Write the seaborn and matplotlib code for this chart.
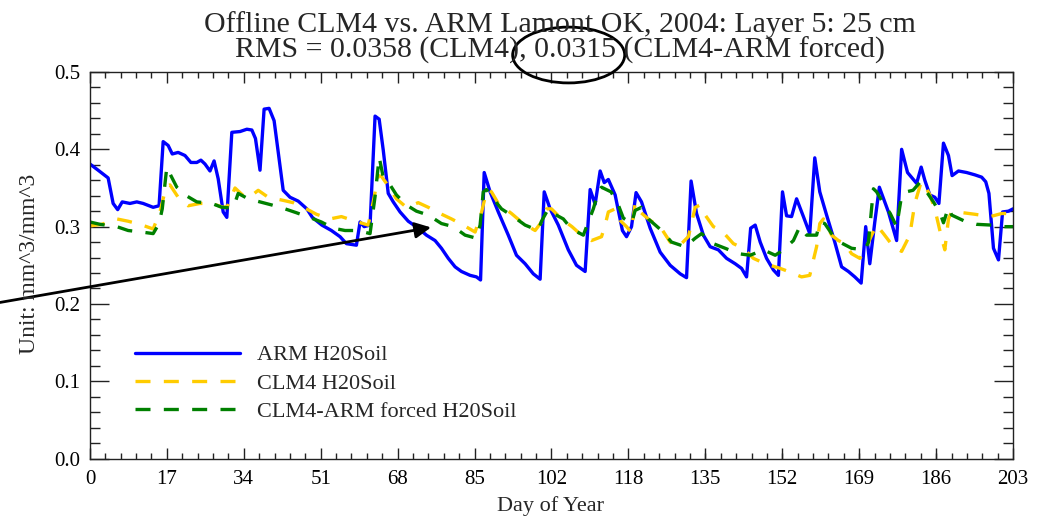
import numpy as np
import pandas as pd
import matplotlib
matplotlib.use("Agg")
import matplotlib.pyplot as plt
from matplotlib.ticker import AutoMinorLocator, FixedLocator
from matplotlib.patches import Ellipse
import seaborn as sns

sns.set_style("ticks")
plt.rcParams["font.family"] = ["Liberation Serif", "DejaVu Serif"]

# ARM observed soil moisture, layer 5 (25 cm)
arm_day = [0, 1.8, 4.0, 5.1, 6.1, 7.1, 8.8, 10.3, 11.7, 13.9, 15.2, 16.1, 17.2, 18.1,
           19.4, 20.9, 22.2, 23.5, 24.4, 25.3, 26.4, 27.3, 28.2, 29.3, 30.1, 31.2,
           33.0, 34.5, 35.6, 36.4, 37.4, 38.3, 39.4, 40.5, 42.5, 44.0, 45.8, 47.7,
           48.9, 51.0, 53.1, 55.0, 56.4, 58.6, 59.4, 60.3, 61.6, 62.7, 63.6, 64.5,
           65.6, 66.7, 68.2, 70.0, 72.2, 74.0, 75.9, 77.3, 78.8, 80.3, 81.7, 83.6,
           85.0, 85.9, 86.7, 88.0, 89.8, 92.0, 93.8, 95.7, 97.5, 99.0, 99.9, 101.2,
           103.0, 105.2, 107.0, 108.9, 110.0, 111.1, 112.2, 113.1, 114.0, 115.5,
           117.1, 118.0, 119.1, 120.1, 121.3, 123.2, 125.4, 127.6, 129.8, 131.2,
           132.2, 133.4, 134.9, 136.4, 138.2, 140.0, 141.9, 143.3, 144.4, 145.3,
           146.3, 147.4, 148.8, 150.3, 151.4, 152.3, 153.2, 154.3, 155.4, 156.9,
           158.3, 159.4, 160.5, 162.0, 163.8, 165.3, 166.8, 168.2, 169.6, 170.6,
           171.5, 172.6, 173.6, 175.6, 177.4, 178.5, 179.8, 181.8, 182.8, 183.6,
           184.7, 185.8, 186.7, 187.7, 188.8, 189.6, 191.0, 192.8, 194.6, 196.1,
           197.0, 197.7, 198.7, 199.8, 200.7, 202.0, 203.0]
arm_val = [0.381, 0.373, 0.363, 0.330, 0.322, 0.332, 0.330, 0.332, 0.330, 0.325, 0.327,
           0.410, 0.405, 0.394, 0.396, 0.392, 0.383, 0.383, 0.386, 0.381, 0.372, 0.385,
           0.362, 0.319, 0.312, 0.422, 0.423, 0.426, 0.425, 0.414, 0.373, 0.452, 0.453,
           0.437, 0.347, 0.338, 0.333, 0.323, 0.312, 0.302, 0.295, 0.287, 0.278, 0.276,
           0.306, 0.300, 0.302, 0.443, 0.439, 0.399, 0.343, 0.332, 0.319, 0.307, 0.298,
           0.289, 0.282, 0.272, 0.259, 0.248, 0.242, 0.237, 0.235, 0.231, 0.370, 0.345,
           0.319, 0.289, 0.263, 0.252, 0.239, 0.232, 0.345, 0.323, 0.302, 0.270, 0.250,
           0.242, 0.348, 0.329, 0.372, 0.357, 0.361, 0.341, 0.295, 0.287, 0.300, 0.344,
           0.332, 0.298, 0.267, 0.250, 0.239, 0.234, 0.359, 0.317, 0.289, 0.274, 0.270,
           0.259, 0.252, 0.246, 0.235, 0.298, 0.302, 0.280, 0.259, 0.244, 0.237, 0.345,
           0.314, 0.313, 0.336, 0.313, 0.291, 0.389, 0.345, 0.315, 0.280, 0.248, 0.242,
           0.235, 0.227, 0.300, 0.252, 0.306, 0.351, 0.319, 0.282, 0.400, 0.370, 0.356,
           0.377, 0.360, 0.341, 0.338, 0.330, 0.408, 0.392, 0.366, 0.372, 0.370, 0.367,
           0.364, 0.358, 0.343, 0.272, 0.257, 0.319, 0.320, 0.323]

# Offline CLM4 simulation
clm_day = [0, 2.6, 5.9, 8.4, 11.0, 13.9, 15.4, 16.1, 16.8, 17.6, 19.4, 21.6, 24.2, 26.8,
           29.3, 30.2, 31.9, 34.1, 35.5, 37.0, 39.2, 42.5, 44.7, 47.6, 49.8, 52.8, 55.3,
           58.4, 61.2, 62.3, 63.4, 64.1, 65.2, 67.4, 69.6, 72.2, 74.4, 77.0, 79.5, 82.1,
           84.7, 86.1, 86.9, 87.5, 88.3, 89.8, 92.7, 95.3, 97.9, 99.3, 100.4, 101.5,
           103.7, 106.0, 108.1, 110.3, 112.5, 113.3, 114.0, 115.5, 116.6, 118.0, 119.0,
           119.9, 120.6, 123.2, 125.4, 127.6, 129.4, 131.6, 133.1, 134.2, 135.3, 137.1,
           138.9, 141.5, 143.7, 145.9, 148.5, 151.8, 153.6, 156.5, 158.3, 159.1, 159.8,
           160.5, 161.3, 163.1, 164.6, 166.0, 167.5, 169.3, 170.8, 171.9, 173.0, 174.5,
           176.7, 178.5, 180.3, 181.4, 182.8, 183.6, 184.7, 185.8, 187.3, 188.0, 188.8,
           189.5, 192.0, 194.6, 198.0, 200.5, 203.0]
clm_val = [0.301, 0.303, 0.310, 0.307, 0.303, 0.297, 0.319, 0.336, 0.352, 0.354, 0.338,
           0.327, 0.330, 0.330, 0.325, 0.326, 0.350, 0.338, 0.340, 0.347, 0.338, 0.334,
           0.331, 0.323, 0.316, 0.310, 0.313, 0.307, 0.302, 0.332, 0.366, 0.365, 0.356,
           0.336, 0.325, 0.331, 0.325, 0.317, 0.310, 0.302, 0.293, 0.318, 0.338, 0.348,
           0.345, 0.330, 0.317, 0.304, 0.295, 0.306, 0.323, 0.323, 0.310, 0.300, 0.289,
           0.282, 0.287, 0.302, 0.319, 0.323, 0.308, 0.300, 0.293, 0.330, 0.321, 0.308,
           0.300, 0.280, 0.274, 0.287, 0.325, 0.328, 0.315, 0.300, 0.295, 0.278, 0.272,
           0.259, 0.252, 0.246, 0.242, 0.235, 0.237, 0.257, 0.274, 0.304, 0.310, 0.289,
           0.282, 0.278, 0.265, 0.259, 0.274, 0.289, 0.302, 0.291, 0.274, 0.268, 0.289,
           0.330, 0.358, 0.354, 0.341, 0.323, 0.285, 0.270, 0.310, 0.319, 0.318, 0.316,
           0.313, 0.317, 0.317]

# CLM4 driven with ARM forcing
frc_day = [0, 2.2, 5.9, 8.4, 11.4, 13.9, 15.2, 15.9, 16.9, 17.8, 19.1, 20.9, 23.5, 26.8,
           29.0, 31.5, 32.6, 34.8, 37.4, 40.0, 42.9, 45.4, 48.7, 50.9, 53.5, 56.1, 59.0,
           61.6, 62.7, 63.6, 64.5, 66.0, 67.4, 69.6, 71.8, 74.4, 77.3, 79.9, 82.5, 85.0,
           85.8, 86.5, 87.2, 89.0, 90.5, 93.1, 95.7, 98.6, 99.3, 100.8, 101.9, 104.1,
           105.9, 108.5, 109.6, 110.7, 111.8, 112.5, 114.6, 116.2, 117.3, 119.1, 119.9,
           121.3, 122.8, 125.7, 127.9, 130.9, 133.1, 134.5, 137.1, 139.7, 142.6, 145.2,
           148.1, 150.7, 152.5, 154.7, 156.1, 157.6, 159.8, 160.5, 161.6, 163.1, 164.9,
           167.5, 170.4, 171.2, 172.3, 173.0, 174.5, 176.0, 177.4, 178.5, 179.5, 181.0,
           182.5, 184.0, 185.5, 187.0, 187.7, 188.8, 189.5, 192.4, 195.0, 198.3, 200.9,
           203.0]
frc_val = [0.306, 0.303, 0.300, 0.295, 0.293, 0.291, 0.304, 0.323, 0.377, 0.366, 0.351,
           0.341, 0.332, 0.330, 0.325, 0.324, 0.343, 0.336, 0.332, 0.328, 0.323, 0.318,
           0.311, 0.306, 0.298, 0.295, 0.295, 0.291, 0.339, 0.390, 0.364, 0.354, 0.341,
           0.328, 0.320, 0.315, 0.304, 0.300, 0.289, 0.285, 0.302, 0.345, 0.348, 0.334,
           0.323, 0.313, 0.302, 0.295, 0.307, 0.323, 0.317, 0.310, 0.297, 0.289, 0.306,
           0.323, 0.345, 0.351, 0.345, 0.328, 0.311, 0.304, 0.321, 0.325, 0.310, 0.295,
           0.280, 0.274, 0.285, 0.291, 0.278, 0.272, 0.265, 0.263, 0.270, 0.263, 0.270,
           0.282, 0.300, 0.289, 0.289, 0.306, 0.304, 0.291, 0.280, 0.272, 0.270, 0.280,
           0.349, 0.345, 0.330, 0.317, 0.300, 0.340, 0.345, 0.347, 0.357, 0.345, 0.332,
           0.317, 0.305, 0.325, 0.315, 0.307, 0.303, 0.302, 0.300, 0.300]

x_ticks = [0, 16.917, 33.833, 50.75, 67.667, 84.583, 101.5, 118.417, 135.333,
           152.25, 169.167, 186.083, 203]
x_tick_labels = ["0", "17", "34", "51", "68", "85", "102", "118", "135", "152",
                 "169", "186", "203"]
y_ticks = [0.0, 0.1, 0.2, 0.3, 0.4, 0.5]
y_tick_labels = ["0.0", "0.1", "0.2", "0.3", "0.4", "0.5"]

arm = pd.DataFrame({"day": arm_day, "value": arm_val})
clm = pd.DataFrame({"day": clm_day, "value": clm_val})
frc = pd.DataFrame({"day": frc_day, "value": frc_val})

fig = plt.figure(figsize=(10.57, 5.17), dpi=100)
ax = fig.add_axes([0.0851, 0.1130, 0.8733, 0.7477])

sns.lineplot(data=arm, x="day", y="value", ax=ax, color="#0000FF", lw=2.4,
             label="ARM H20Soil", estimator=None, sort=False)
sns.lineplot(data=clm, x="day", y="value", ax=ax, color="#FFCC00", lw=2.4,
             linestyle=(0, (4.5, 4.0)), label="CLM4 H20Soil", estimator=None, sort=False)
sns.lineplot(data=frc, x="day", y="value", ax=ax, color="#008000", lw=2.4,
             linestyle=(0, (4.5, 4.0)), label="CLM4-ARM forced H20Soil",
             estimator=None, sort=False)

ax.set_xlim(0, 203)
ax.set_ylim(0.0, 0.5)
ax.xaxis.set_major_locator(FixedLocator(x_ticks))
ax.set_xticklabels(x_tick_labels)
ax.xaxis.set_minor_locator(AutoMinorLocator(5))
ax.yaxis.set_major_locator(FixedLocator(y_ticks))
ax.set_yticklabels(y_tick_labels)
ax.yaxis.set_minor_locator(AutoMinorLocator(5))
ax.set_xlabel("")
ax.set_ylabel("")

for s in ax.spines.values():
    s.set_visible(True)
    s.set_linewidth(1.0)
    s.set_color("#222222")
ax.tick_params(axis="x", which="major", direction="in", length=8, width=1,
               top=True, labelsize=15, pad=8, colors="#222222", labelcolor="black")
ax.tick_params(axis="x", which="minor", direction="in", length=4, width=1, top=True,
               colors="#222222")
ax.tick_params(axis="y", which="major", direction="in", length=14, width=1,
               right=True, labelsize=15, pad=7, colors="#222222", labelcolor="black")
ax.tick_params(axis="y", which="minor", direction="in", length=7, width=1, right=True,
               colors="#222222")

ax.legend(loc="upper left", bbox_to_anchor=(0.049, 0.294), frameon=False, fontsize=16,
          handlelength=4.7, handletextpad=0.8, labelspacing=0.35, borderpad=0,
          borderaxespad=0)

fig.text(0.530, 0.938, "Offline CLM4 vs. ARM Lamont OK, 2004: Layer 5: 25 cm",
         ha="center", va="baseline", fontsize=21.5)
fig.text(0.530, 0.888, "RMS = 0.0358 (CLM4), 0.0315 (CLM4-ARM forced)",
         ha="center", va="baseline", fontsize=21.5)
fig.text(0.028, 0.490, "Unit: mm^3/mm^3", rotation=90, ha="center", va="center",
         fontsize=17)
fig.text(0.521, 0.022, "Day of Year", ha="center", va="center", fontsize=16)

# highlight on the forced-run RMS value and pointer into the plot
fig.add_artist(Ellipse((0.538, 0.8936), 0.106, 0.108, transform=fig.transFigure,
                       fill=False, lw=2, ec="black"))
ax.annotate("", xy=(75, 0.299), xycoords="data", xytext=(0.0, 0.415),
            textcoords="figure fraction",
            arrowprops=dict(arrowstyle="-|>", color="black", lw=2, mutation_scale=24,
                            shrinkA=0, shrinkB=0),
            annotation_clip=False)

fig.savefig("out.png", dpi=100)
